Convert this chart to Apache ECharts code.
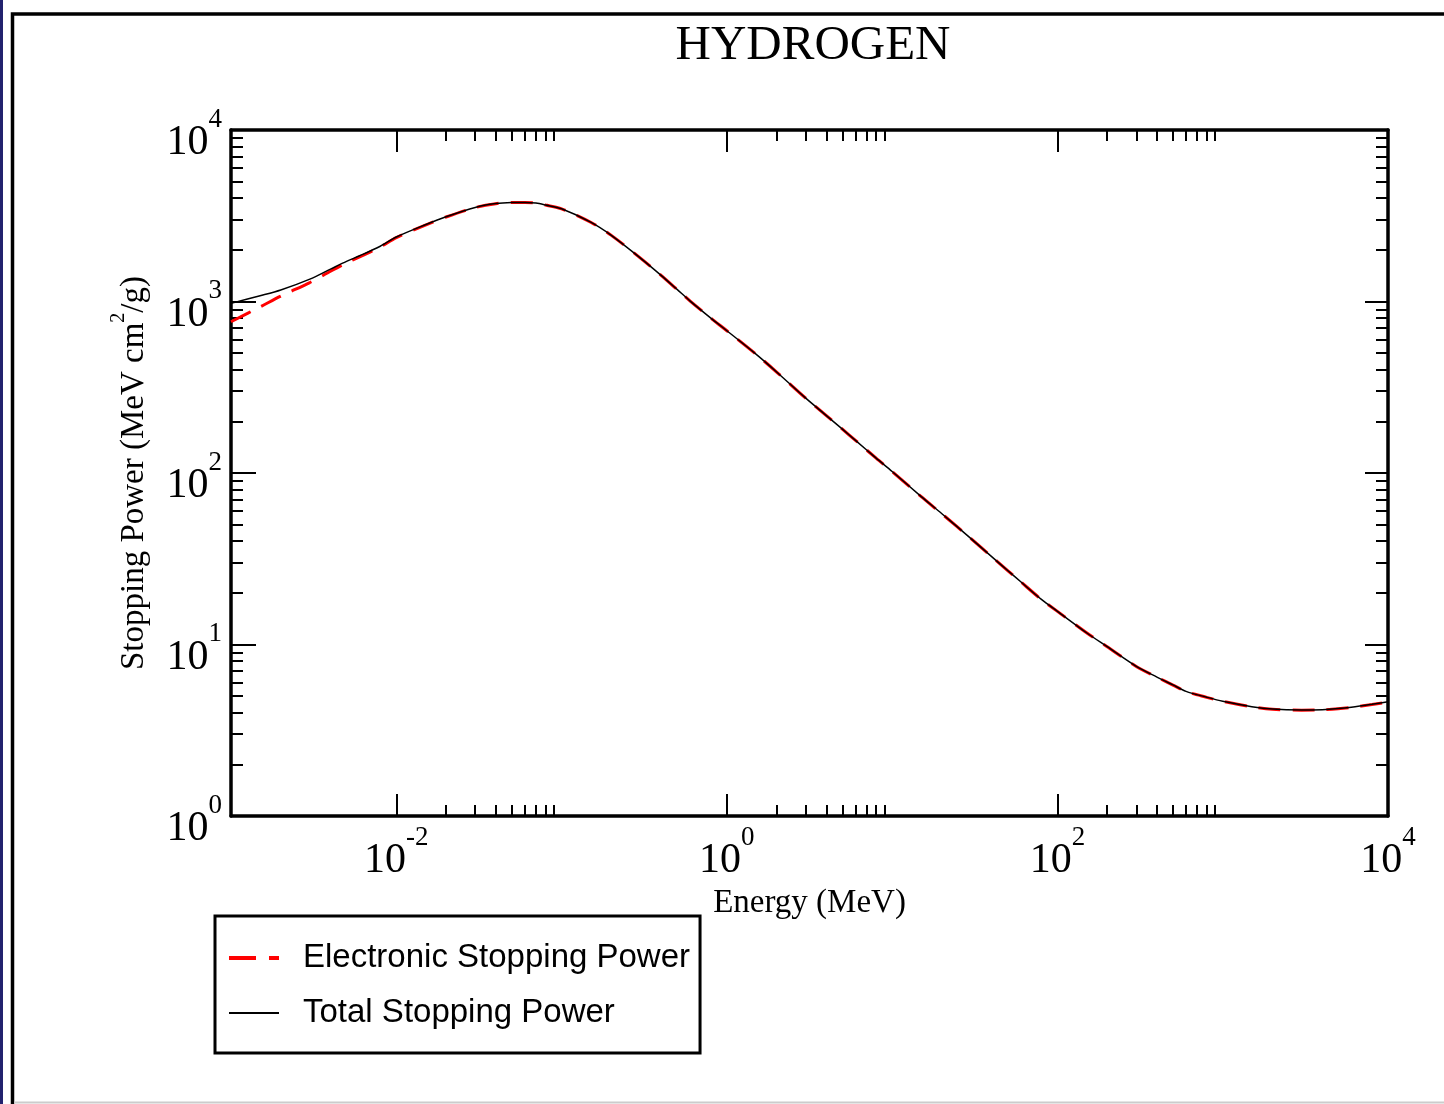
<!DOCTYPE html>
<html>
<head>
<meta charset="utf-8">
<title>HYDROGEN stopping power</title>
<script src="https://cdn.jsdelivr.net/npm/echarts/dist/echarts.min.js"></script>
<style>
  html, body { margin: 0; padding: 0; background: #ffffff; }
  #chart { width: 1444px; height: 1104px; }
</style>
</head>
<body>
<div id="chart"></div>
<script>
// Proton stopping power in hydrogen, MeV cm^2/g versus kinetic energy in MeV
const energies = [
  0.001, 0.0015, 0.002, 0.003, 0.004, 0.005, 0.006, 0.008, 0.01, 0.015,
  0.02, 0.03, 0.04, 0.05, 0.06, 0.07, 0.08, 0.1, 0.15, 0.2,
  0.3, 0.4, 0.5, 0.6, 0.8, 1, 1.5, 2, 3, 4,
  5, 6, 8, 10, 15, 20, 30, 40, 50, 60,
  80, 100, 150, 200, 300, 400, 500, 600, 800, 1000,
  1500, 2000, 3000, 4000, 5000, 6000, 8000, 10000
];
const electronicPower = [
  762, 930, 1075, 1290, 1500, 1680, 1820, 2080, 2360, 2790,
  3110, 3530, 3720, 3775, 3780, 3745, 3650, 3470, 2900, 2430,
  1790, 1420, 1175, 1005, 800, 675, 493, 388, 273, 216,
  180, 155, 122, 102, 72.8, 57.8, 41.4, 32.5, 27.0, 23.2,
  18.3, 15.6, 11.7, 9.7, 7.45, 6.45, 5.80, 5.32, 4.92, 4.66,
  4.33, 4.19, 4.14, 4.16, 4.22, 4.30, 4.47, 4.62
];
const totalPower = [
  975, 1080, 1167, 1350, 1545, 1715, 1848, 2100, 2376, 2802,
  3119, 3536, 3724, 3778, 3783, 3747, 3652, 3472, 2901, 2431,
  1791, 1421, 1176, 1006, 800.5, 675.4, 493.3, 388.2, 273.1, 216.1,
  180.1, 155.1, 122.1, 102.1, 72.85, 57.83, 41.42, 32.52, 27.01, 23.21,
  18.31, 15.61, 11.71, 9.71, 7.46, 6.46, 5.81, 5.33, 4.93, 4.67,
  4.34, 4.20, 4.15, 4.17, 4.23, 4.31, 4.48, 4.63
];

// Axis ticks and labels
const xLabelValues = [0.01, 1, 100, 10000];
const xMajorTicks = [0.01, 1, 100];
const xMinorTicks = [
  0.02, 0.03, 0.04, 0.05, 0.06, 0.07, 0.08, 0.09,
  2, 3, 4, 5, 6, 7, 8, 9,
  200, 300, 400, 500, 600, 700, 800, 900
];
const yLabelValues = [1, 10, 100, 1000, 10000];
const yMajorTicks = [10, 100, 1000];
const yMinorTicks = [
  2, 3, 4, 5, 6, 7, 8, 9,
  20, 30, 40, 50, 60, 70, 80, 90,
  200, 300, 400, 500, 600, 700, 800, 900,
  2000, 3000, 4000, 5000, 6000, 7000, 8000, 9000
];

const SERIF = '"Liberation Serif", "DejaVu Serif", serif';
const SANS = '"Liberation Sans", Arial, sans-serif';

const powerRich = {
  b: { fontFamily: SERIF, fontSize: 42, color: '#000', padding: [16, 0, 0, 0], verticalAlign: 'bottom' },
  e: { fontFamily: SERIF, fontSize: 27, color: '#000', verticalAlign: 'top' }
};
function powerLabel(v) {
  const exp = Math.round(Math.log10(v));
  return '{b|10}{e|' + exp + '}';
}

function logAxis(kind, position, opts) {
  const isX = kind === 'x';
  return Object.assign({
    type: 'log',
    logBase: 10,
    gridIndex: 0,
    position: position,
    min: isX ? 0.001 : 1,
    max: 10000,
    splitLine: { show: false },
    minorTick: { show: false },
    axisLine: { show: false, onZero: false },
    axisTick: { show: false },
    axisLabel: { show: false }
  }, opts);
}
function tickSet(values, len) {
  return {
    show: true, inside: true, length: len, customValues: values,
    lineStyle: { color: '#000', width: 2 }
  };
}
const frameLine = { show: true, onZero: false, lineStyle: { color: '#000', width: 3.5 } };

const chart = echarts.init(document.getElementById('chart'), null, { renderer: 'canvas' });

chart.setOption({
  backgroundColor: '#ffffff',
  animation: false,
  title: {
    text: 'HYDROGEN',
    left: 808,
    top: 17,
    textAlign: 'center',
    textStyle: { fontFamily: SERIF, fontSize: 49, fontWeight: 'normal', color: '#000' }
  },
  graphic: [
    { type: 'rect', shape: { x: 0, y: 0, width: 3, height: 1104 }, style: { fill: '#22226e' }, silent: true },
    { type: 'rect', shape: { x: 12.5, y: 14, width: 1500, height: 1200 },
      style: { fill: null, stroke: '#000', lineWidth: 3.5 }, silent: true },
    { type: 'line', shape: { x1: 14, y1: 1102.5, x2: 1444, y2: 1102.5 },
      style: { stroke: '#cccccc', lineWidth: 2 }, silent: true }
  ],
  legend: {
    orient: 'vertical',
    left: 215,
    top: 916,
    padding: [24, 10, 22, 12],
    itemGap: 19,
    itemWidth: 50,
    itemHeight: 14,
    borderColor: '#000',
    borderWidth: 3,
    itemStyle: { opacity: 0 },
    textStyle: { fontFamily: SANS, fontSize: 33, color: '#000', lineHeight: 36, padding: [0, 0, 0, 19] },
    data: [
      { name: 'Electronic Stopping Power', lineStyle: { type: [27, 13], width: 4 } },
      { name: 'Total Stopping Power' }
    ]
  },
  grid: { left: 231, top: 130, right: 56, bottom: 288, containLabel: false },
  xAxis: [
    logAxis('x', 'bottom', {
      axisLine: frameLine,
      axisTick: tickSet(xMajorTicks, 22),
      axisLabel: {
        show: true, margin: 8, customValues: xLabelValues,
        formatter: powerLabel, rich: powerRich
      },
      name: 'Energy (MeV)',
      nameLocation: 'middle',
      nameGap: 68,
      nameTextStyle: { fontFamily: SERIF, fontSize: 33, color: '#000' }
    }),
    logAxis('x', 'bottom', { axisTick: tickSet(xMinorTicks, 11) }),
    logAxis('x', 'top', { axisLine: frameLine, axisTick: tickSet(xMajorTicks, 22) }),
    logAxis('x', 'top', { axisTick: tickSet(xMinorTicks, 11) })
  ],
  yAxis: [
    logAxis('y', 'left', {
      axisLine: frameLine,
      axisTick: tickSet(yMajorTicks, 25),
      axisLabel: {
        show: true, margin: 9, customValues: yLabelValues, padding: [10, 0, 0, 0],
        formatter: powerLabel, rich: powerRich
      },
      name: '{a|Stopping Power (MeV cm}{s|2}{a|/g)}',
      nameLocation: 'middle',
      nameGap: 80,
      nameTextStyle: {
        rich: {
          a: { fontFamily: SERIF, fontSize: 33, color: '#000', padding: [9, 0, 0, 0], verticalAlign: 'bottom' },
          s: { fontFamily: SERIF, fontSize: 20, color: '#000', verticalAlign: 'top' }
        }
      }
    }),
    logAxis('y', 'left', { axisTick: tickSet(yMinorTicks, 12) }),
    logAxis('y', 'right', { axisLine: frameLine, axisTick: tickSet(yMajorTicks, 23) }),
    logAxis('y', 'right', { axisTick: tickSet(yMinorTicks, 12) })
  ],
  series: [
    {
      name: 'Electronic Stopping Power',
      type: 'line',
      xAxisIndex: 0,
      yAxisIndex: 0,
      symbol: 'none',
      smooth: 0.3,
      data: energies.map((e, i) => [e, electronicPower[i]]),
      lineStyle: { color: '#ff0000', width: 3, type: [22, 12] },
      itemStyle: { color: '#ff0000' },
      z: 2
    },
    {
      name: 'Total Stopping Power',
      type: 'line',
      xAxisIndex: 0,
      yAxisIndex: 0,
      symbol: 'none',
      smooth: 0.3,
      data: energies.map((e, i) => [e, totalPower[i]]),
      lineStyle: { color: '#000000', width: 1.5 },
      itemStyle: { color: '#000000' },
      z: 3
    }
  ]
});
</script>
</body>
</html>
